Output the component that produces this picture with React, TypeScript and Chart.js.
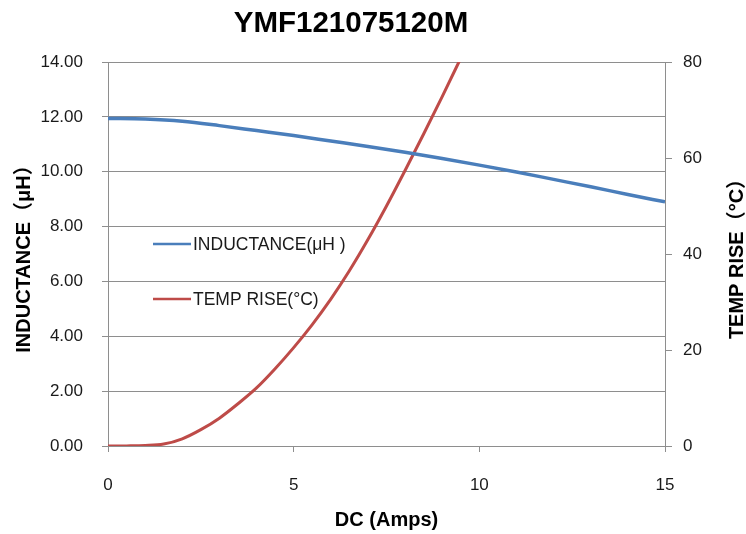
import React, { useEffect, useRef } from "react";
import { Chart, registerables } from "chart.js";

Chart.register(...registerables);

const chartTitle = "YMF121075120M";
const xTitle = "DC (Amps)";
const yLeftTitle = "INDUCTANCE（μH）";
const yRightTitle = "TEMP RISE（°C）";
const legendInductance = "INDUCTANCE(μH )";
const legendTemp = "TEMP RISE(°C)";

const currentInd = [0, 1, 2, 3, 4, 5, 6, 7, 8, 9, 10, 11, 12, 13, 14, 15];
const inductance = [11.94, 11.92, 11.84, 11.68, 11.5, 11.32, 11.12, 10.92, 10.71, 10.48, 10.24, 9.99, 9.72, 9.45, 9.17, 8.9];

const currentTemp = [0, 0.5, 1, 1.5, 2, 2.5, 3, 3.5, 4, 4.5, 5, 5.5, 6, 6.5, 7, 7.5, 8, 8.5, 9, 9.5];
const tempRise = [0, 0.02, 0.1, 0.4, 1.5, 3.4, 5.8, 8.8, 12.1, 16.1, 20.5, 25.3, 30.6, 36.5, 43.0, 50.0, 57.4, 65.0, 72.8, 80.8];

const FONT = "'Liberation Sans', Arial, 'Noto Sans CJK SC', sans-serif";
const BLUE = "#4a7ebb";
const RED = "#be4b48";
const GRID = "#8e8e8e";
const TEXT = "#1a1a1a";

export default function App() {
  const ref = useRef<HTMLCanvasElement | null>(null);

  useEffect(() => {
    if (!ref.current) return;

    const overlay = {
      id: "overlay",
      afterDraw(chart: any) {
        const ctx = chart.ctx;
        ctx.save();
        // title
        ctx.fillStyle = "#000";
        ctx.font = `bold 29.5px ${FONT}`;
        ctx.textAlign = "center";
        ctx.textBaseline = "middle";
        ctx.fillText(chartTitle, 351, 24);
        // right axis title (reads bottom to top)
        ctx.save();
        ctx.translate(737, 254);
        ctx.rotate(-Math.PI / 2);
        ctx.font = `bold 20px ${FONT}`;
        ctx.fillText(yRightTitle, 0, 0);
        ctx.restore();
        // legend
        const items = [
          { label: legendInductance, color: BLUE, y: 244 },
          { label: legendTemp, color: RED, y: 299 },
        ];
        ctx.font = `17.5px ${FONT}`;
        ctx.textAlign = "left";
        ctx.textBaseline = "middle";
        for (const it of items) {
          ctx.strokeStyle = it.color;
          ctx.lineWidth = 2.5;
          ctx.beginPath();
          ctx.moveTo(153, it.y);
          ctx.lineTo(191, it.y);
          ctx.stroke();
          ctx.fillStyle = TEXT;
          ctx.fillText(it.label, 193, it.y + 1);
        }
        ctx.restore();
      },
    };

    const chart = new Chart(ref.current, {
      type: "scatter",
      data: {
        datasets: [
          {
            label: legendInductance,
            data: currentInd.map((x, i) => ({ x, y: inductance[i] })),
            yAxisID: "y",
            showLine: true,
            borderColor: BLUE,
            borderWidth: 3.5,
            pointRadius: 0,
            cubicInterpolationMode: "monotone",
          },
          {
            label: legendTemp,
            data: currentTemp.map((x, i) => ({ x, y: tempRise[i] })),
            yAxisID: "y1",
            showLine: true,
            borderColor: RED,
            borderWidth: 3,
            pointRadius: 0,
            cubicInterpolationMode: "monotone",
          },
        ],
      },
      options: {
        animation: false,
        responsive: false,
        layout: { padding: { top: 62, left: 0, right: 0, bottom: 0 } },
        plugins: {
          legend: { display: false },
          title: { display: false },
          tooltip: { enabled: false },
        },
        scales: {
          x: {
            type: "linear",
            min: 0,
            max: 15,
            ticks: { stepSize: 5, padding: 23, color: TEXT, font: { family: FONT, size: 17 } },
            grid: { drawOnChartArea: false, color: GRID, tickLength: 6 },
            border: { color: GRID },
            title: {
              display: true,
              text: xTitle,
              color: "#000",
              font: { family: FONT, size: 20, weight: "bold" },
              padding: { top: 0, bottom: 2 },
            },
            afterFit(s: any) {
              s.height = 88;
            },
          },
          y: {
            position: "left",
            min: 0,
            max: 14,
            ticks: {
              stepSize: 2,
              padding: 19,
              color: TEXT,
              font: { family: FONT, size: 17 },
              callback: (v: any) => Number(v).toFixed(2),
            },
            grid: { color: GRID, tickLength: 6 },
            border: { color: GRID },
            title: {
              display: true,
              text: yLeftTitle,
              color: "#000",
              font: { family: FONT, size: 20, weight: "bold" },
              padding: { top: 12, bottom: 0 },
            },
            afterFit(s: any) {
              s.width = 108;
            },
          },
          y1: {
            position: "right",
            min: 0,
            max: 80,
            ticks: { stepSize: 20, padding: 11, color: TEXT, font: { family: FONT, size: 17 } },
            grid: { drawOnChartArea: false, color: GRID, tickLength: 7 },
            border: { color: GRID },
            afterFit(s: any) {
              s.width = 81;
            },
          },
        },
      },
      plugins: [overlay],
    });

    return () => chart.destroy();
  }, []);

  return (
    <div style={{ position: "fixed", left: 0, top: 0, width: 746, height: 534, background: "#fff" }}>
      <canvas ref={ref} width={746} height={534} style={{ display: "block" }} />
    </div>
  );
}
